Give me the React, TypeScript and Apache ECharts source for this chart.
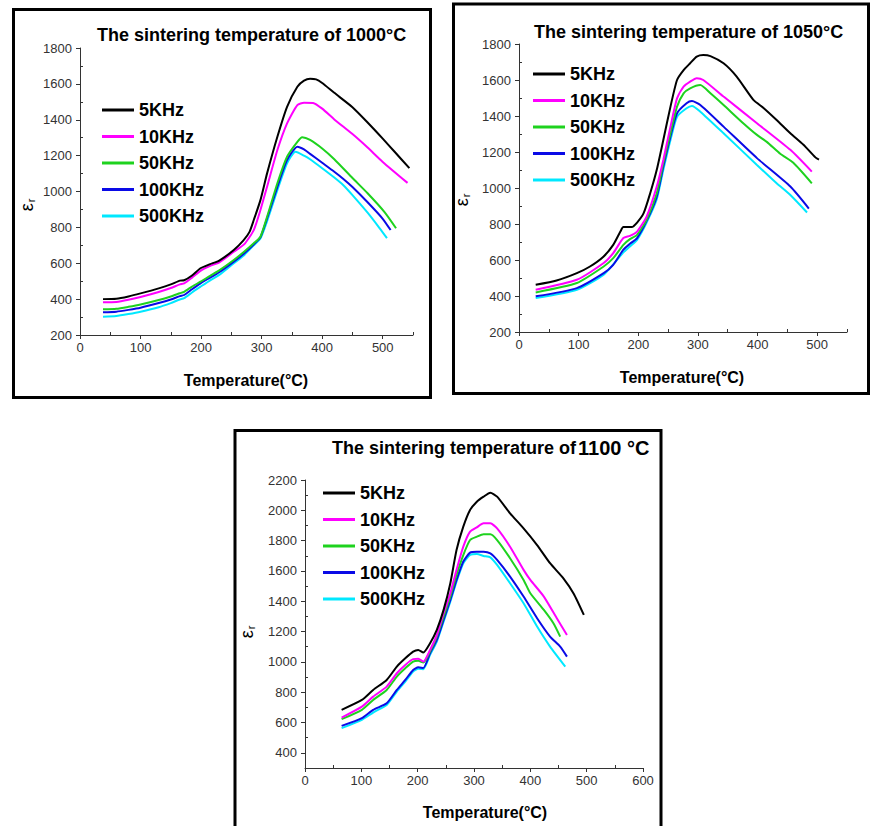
import React, { useEffect, useRef } from "react";
import * as echarts from "echarts";

const FREQS = ["5KHz", "10KHz", "50KHz", "100KHz", "500KHz"];
const COLORS = ["#000000", "#ff00ff", "#1ed21e", "#0a0ae6", "#00e8ff"];

const TITLES = ["The sintering temperature of 1000°C", "The sintering temperature of 1050°C", "The sintering temperature of"];
const TITLE3_TEMP = "1100 °C";
const X_NAME = "Temperature(°C)";

const X_TICKS_A = [0, 100, 200, 300, 400, 500];
const X_MINOR_A = [50, 150, 250, 350, 450, 550];
const X_TICKS_B = [0, 100, 200, 300, 400, 500, 600];
const X_MINOR_B = [50, 150, 250, 350, 450, 550];
const Y_TICKS_A = [200, 400, 600, 800, 1000, 1200, 1400, 1600, 1800];
const Y_MINOR_A = [300, 500, 700, 900, 1100, 1300, 1500, 1700];
const Y_TICKS_B = [400, 600, 800, 1000, 1200, 1400, 1600, 1800, 2000, 2200];
const Y_MINOR_B = [300, 500, 700, 900, 1100, 1300, 1500, 1700, 1900, 2100];

// ---- 1000 °C ----
const t1000_5k = [38, 60, 80, 100, 130, 150, 165, 172, 185, 199, 215, 230, 254, 270, 280, 287, 298, 309, 326, 342, 359, 370, 380, 390, 400, 420, 450, 475, 500, 520, 544];
const e1000_5k = [400, 402, 415, 432, 460, 482, 503, 505, 532, 572, 595, 615, 674, 728, 775, 841, 952, 1101, 1305, 1472, 1584, 1618, 1628, 1625, 1605, 1550, 1470, 1385, 1295, 1220, 1130];
const t1000_10k = [38, 60, 80, 100, 130, 150, 165, 172, 185, 199, 215, 230, 254, 271, 287, 298, 309, 326, 342, 359, 370, 385, 400, 420, 450, 475, 500, 541];
const e1000_10k = [382, 384, 396, 412, 440, 462, 482, 488, 520, 558, 585, 605, 664, 705, 785, 897, 1027, 1231, 1380, 1482, 1495, 1494, 1462, 1402, 1320, 1245, 1165, 1048];
const t1000_50k = [38, 60, 80, 100, 130, 150, 165, 172, 185, 199, 215, 230, 254, 271, 287, 298, 309, 326, 342, 359, 367, 380, 400, 420, 450, 475, 503, 522];
const e1000_50k = [343, 346, 357, 370, 395, 415, 433, 441, 470, 497, 530, 560, 618, 664, 711, 748, 859, 1046, 1194, 1277, 1303, 1288, 1240, 1180, 1075, 990, 885, 795];
const t1000_100k = [38, 60, 80, 100, 130, 150, 165, 172, 185, 199, 215, 230, 254, 271, 287, 298, 309, 326, 342, 359, 370, 380, 400, 420, 435, 450, 475, 500, 513];
const e1000_100k = [327, 330, 340, 352, 378, 398, 417, 423, 455, 488, 520, 550, 609, 655, 705, 745, 850, 1026, 1175, 1250, 1235, 1210, 1160, 1110, 1070, 1025, 940, 848, 785];
const t1000_500k = [38, 60, 80, 100, 130, 150, 165, 172, 185, 199, 215, 230, 254, 271, 287, 298, 309, 326, 342, 356, 370, 380, 400, 420, 435, 450, 475, 495, 507];
const e1000_500k = [302, 306, 317, 330, 355, 378, 398, 405, 437, 469, 505, 535, 600, 645, 700, 738, 835, 1008, 1157, 1222, 1200, 1180, 1130, 1078, 1035, 980, 882, 795, 740];

// ---- 1050 °C ----
const t1050_5k = [28, 63, 97, 119, 142, 158, 170, 175, 189, 198, 209, 220, 231, 242, 254, 265, 276, 287, 298, 309, 321, 343, 365, 393, 410, 432, 455, 477, 497, 503];
const e1050_5k = [462, 486, 527, 564, 620, 684, 758, 783, 783, 808, 860, 971, 1101, 1267, 1452, 1600, 1655, 1693, 1730, 1739, 1733, 1693, 1619, 1490, 1445, 1378, 1304, 1240, 1170, 1158];
const t1050_10k = [28, 97, 142, 158, 175, 186, 198, 214, 231, 242, 254, 265, 276, 287, 298, 309, 343, 399, 455, 491];
const e1050_10k = [435, 490, 583, 638, 722, 734, 758, 841, 1008, 1156, 1341, 1498, 1563, 1591, 1610, 1600, 1508, 1360, 1212, 1091];
const t1050_50k = [28, 97, 142, 158, 175, 186, 198, 214, 231, 242, 254, 265, 276, 287, 304, 321, 343, 376, 399, 416, 438, 460, 491];
const e1050_50k = [420, 472, 564, 610, 684, 716, 740, 823, 971, 1137, 1304, 1452, 1526, 1554, 1572, 1526, 1461, 1360, 1295, 1255, 1190, 1140, 1026];
const t1050_100k = [28, 97, 142, 158, 175, 186, 198, 214, 231, 242, 254, 265, 281, 290, 304, 343, 399, 455, 486];
const e1050_100k = [398, 444, 527, 573, 657, 690, 722, 817, 952, 1119, 1286, 1415, 1471, 1483, 1461, 1341, 1166, 1008, 886];
const t1050_500k = [28, 97, 142, 175, 186, 198, 214, 231, 242, 254, 265, 281, 290, 304, 343, 399, 432, 455, 483];
const e1050_500k = [389, 435, 518, 642, 675, 712, 808, 938, 1101, 1267, 1396, 1443, 1456, 1424, 1304, 1128, 1026, 961, 864];

// ---- 1100 °C ----
const t1100_5k = [65, 101, 121, 145, 163, 178, 192, 201, 210, 222, 234, 246, 258, 269, 281, 293, 305, 317, 329, 341, 364, 388, 412, 435, 459, 477, 495];
const e1100_5k = [684, 749, 815, 881, 969, 1024, 1068, 1079, 1062, 1123, 1211, 1343, 1519, 1738, 1892, 2002, 2057, 2090, 2116, 2090, 1980, 1881, 1771, 1651, 1550, 1450, 1310];
const t1100_10k = [65, 101, 121, 145, 163, 178, 192, 201, 210, 222, 234, 246, 258, 269, 281, 293, 305, 317, 329, 341, 364, 388, 400, 424, 447, 465];
const e1100_10k = [633, 705, 771, 837, 925, 980, 1018, 1020, 1002, 1079, 1178, 1321, 1453, 1607, 1760, 1859, 1888, 1914, 1914, 1881, 1760, 1607, 1541, 1431, 1288, 1178];
const t1100_50k = [65, 101, 121, 145, 163, 178, 192, 201, 210, 222, 234, 246, 258, 269, 281, 293, 305, 317, 329, 341, 364, 388, 400, 424, 441, 453];
const e1100_50k = [622, 684, 749, 815, 903, 958, 1002, 1007, 996, 1068, 1167, 1299, 1431, 1574, 1705, 1804, 1826, 1842, 1842, 1804, 1684, 1541, 1453, 1343, 1255, 1167];
const t1100_100k = [65, 101, 121, 145, 163, 178, 192, 201, 210, 222, 234, 246, 258, 269, 281, 293, 305, 317, 329, 341, 364, 388, 412, 435, 453, 465];
const e1100_100k = [578, 629, 684, 727, 815, 881, 947, 965, 960, 1057, 1145, 1277, 1409, 1541, 1662, 1721, 1727, 1727, 1716, 1673, 1563, 1431, 1288, 1167, 1101, 1035];
const t1100_500k = [65, 101, 121, 145, 163, 178, 192, 201, 210, 222, 234, 246, 258, 269, 281, 293, 305, 317, 329, 341, 364, 388, 412, 435, 462];
const e1100_500k = [563, 618, 666, 716, 804, 870, 936, 954, 952, 1046, 1134, 1266, 1398, 1530, 1651, 1705, 1712, 1699, 1690, 1640, 1519, 1387, 1233, 1101, 969];

const PANEL_DATA = [
  [[t1000_5k, e1000_5k], [t1000_10k, e1000_10k], [t1000_50k, e1000_50k], [t1000_100k, e1000_100k], [t1000_500k, e1000_500k]],
  [[t1050_5k, e1050_5k], [t1050_10k, e1050_10k], [t1050_50k, e1050_50k], [t1050_100k, e1050_100k], [t1050_500k, e1050_500k]],
  [[t1100_5k, e1100_5k], [t1100_10k, e1100_10k], [t1100_50k, e1100_50k], [t1100_100k, e1100_100k], [t1100_500k, e1100_500k]],
];

const FONT = "Arial, 'Liberation Sans', Helvetica, sans-serif";

const PANELS = [
  { grid: { left: 80, top: 48, width: 333, height: 287 }, xMax: 550, yMin: 200, yMax: 1800, xt: X_TICKS_A, xm: X_MINOR_A, yt: Y_TICKS_A, ym: Y_MINOR_A, legend: { left: 97, top: 96 } },
  { grid: { left: 519, top: 44, width: 328, height: 288 }, xMax: 550, yMin: 200, yMax: 1800, xt: X_TICKS_A, xm: X_MINOR_A, yt: Y_TICKS_A, ym: Y_MINOR_A, legend: { left: 528, top: 60 } },
  { grid: { left: 305, top: 480, width: 338, height: 288 }, xMax: 600, yMin: 300, yMax: 2200, xt: X_TICKS_B, xm: X_MINOR_B, yt: Y_TICKS_B, ym: Y_MINOR_B, legend: { left: 318, top: 479 } },
];

function txt(x: number, y: number, text: string, font: string, align: string, extra: any = {}) {
  return {
    type: "text",
    x,
    y,
    ...extra,
    style: {
      text,
      font,
      fill: "#000",
      align,
      verticalAlign: "middle",
      textAlign: align,
      textVerticalAlign: "middle",
      ...(extra.style || {}),
    },
  };
}

export default function App() {
  const ref = useRef<HTMLDivElement>(null);
  useEffect(() => {
    if (!ref.current) return;
    const chart = echarts.init(ref.current, null, { renderer: "svg" });
    const axisColor = "#333";
    const labelStyle = { color: "#333", fontSize: 13, fontFamily: FONT };

    const grids: any[] = [];
    const xAxes: any[] = [];
    const yAxes: any[] = [];
    const series: any[] = [];
    const legends: any[] = [];

    PANELS.forEach((p, pi) => {
      grids.push({ ...p.grid, containLabel: false });
      xAxes.push({
        type: "value", gridIndex: pi, position: "bottom", min: 0, max: p.xMax, interval: 100,
        axisLine: { show: true, onZero: false, lineStyle: { color: axisColor, width: 1 } },
        axisTick: { show: true, inside: false, length: 4, lineStyle: { color: axisColor }, customValues: p.xt },
        axisLabel: { ...labelStyle, margin: 6, customValues: p.xt, formatter: (v: number) => (v % 100 === 0 ? String(v) : "") },
        splitLine: { show: false },
      });
      xAxes.push({
        type: "value", gridIndex: pi, position: "bottom", min: 0, max: p.xMax, interval: 50,
        axisLine: { show: false },
        axisTick: { show: true, inside: true, length: 3, lineStyle: { color: axisColor }, customValues: p.xm },
        axisLabel: { show: false },
        splitLine: { show: false },
      });
      yAxes.push({
        type: "value", gridIndex: pi, position: "left", min: p.yMin, max: p.yMax, interval: 100,
        axisLine: { show: true, onZero: false, lineStyle: { color: axisColor, width: 1 } },
        axisTick: { show: true, inside: false, length: 4, lineStyle: { color: axisColor }, customValues: p.yt },
        axisLabel: { ...labelStyle, margin: 8, customValues: p.yt, formatter: (v: number) => (v % 200 === 0 ? String(v) : "") },
        splitLine: { show: false },
      });
      yAxes.push({
        type: "value", gridIndex: pi, position: "left", min: p.yMin, max: p.yMax, interval: 100,
        axisLine: { show: false },
        axisTick: { show: true, inside: true, length: 3, lineStyle: { color: axisColor }, customValues: p.ym },
        axisLabel: { show: false },
        splitLine: { show: false },
      });
      PANEL_DATA[pi].forEach(([t, e], fi) => {
        series.push({
          type: "line",
          name: FREQS[fi],
          xAxisIndex: pi * 2,
          yAxisIndex: pi * 2,
          data: t.map((x: number, i: number) => [x, e[i]]),
          showSymbol: false,
          symbol: "none",
          smooth: 0.2,
          lineStyle: { width: 2, color: COLORS[fi] },
          itemStyle: { color: COLORS[fi] },
          z: 10 - fi,
        });
      });
      legends.push({
        left: p.legend.left, top: p.legend.top, orient: "vertical",
        data: FREQS, icon: "rect", itemWidth: 32, itemHeight: 3, itemGap: 8.5,
        selectedMode: false,
        textStyle: { fontSize: 18, fontWeight: "bold", fontFamily: FONT, color: "#000" },
      });
    });

    const epsRich = {
      e: { fontSize: 18, fontFamily: FONT, fill: "#000" },
      r: { fontSize: 11, fontFamily: FONT, fill: "#000", padding: [8, 0, 0, 1] },
    };

    const graphic: any[] = [
      { type: "rect", shape: { x: 13.5, y: 9.5, width: 417, height: 388 }, style: { fill: "none", stroke: "#000", lineWidth: 3 }, z: 100 },
      { type: "rect", shape: { x: 453.5, y: 4, width: 415, height: 389.5 }, style: { fill: "none", stroke: "#000", lineWidth: 3 }, z: 100 },
      { type: "rect", shape: { x: 235, y: 430.5, width: 426, height: 400 }, style: { fill: "none", stroke: "#000", lineWidth: 3 }, z: 100 },
      txt(97, 35, TITLES[0], `bold 18px ${FONT}`, "left"),
      txt(534, 32, TITLES[1], `bold 18px ${FONT}`, "left"),
      txt(332, 448, `{a|${TITLES[2]}}{b|${TITLE3_TEMP}}`, `bold 18px ${FONT}`, "left", {
        style: {
          rich: {
            a: { font: `bold 18px ${FONT}`, fill: "#000" },
            b: { font: `bold 20px ${FONT}`, fill: "#000", padding: [0, 0, 0, 2] },
          },
        },
      }),
      txt(246, 380, X_NAME, `bold 16px ${FONT}`, "center"),
      txt(682, 377, X_NAME, `bold 16px ${FONT}`, "center"),
      txt(485, 812, X_NAME, `bold 16px ${FONT}`, "center"),
      txt(27, 205, "{e|ε}{r|r}", `18px ${FONT}`, "center", { rotation: Math.PI / 2, style: { rich: epsRich } }),
      txt(462, 200, "{e|ε}{r|r}", `18px ${FONT}`, "center", { rotation: Math.PI / 2, style: { rich: epsRich } }),
      txt(247, 632, "{e|ε}{r|r}", `18px ${FONT}`, "center", { rotation: Math.PI / 2, style: { rich: epsRich } }),
    ];

    chart.setOption({
      animation: false,
      backgroundColor: "#fff",
      grid: grids,
      xAxis: xAxes,
      yAxis: yAxes,
      legend: legends,
      series,
      graphic,
    });
    return () => chart.dispose();
  }, []);
  return (
    <div
      ref={ref}
      style={{ position: "absolute", left: 0, top: 0, width: 871, height: 826 }}
    />
  );
}
